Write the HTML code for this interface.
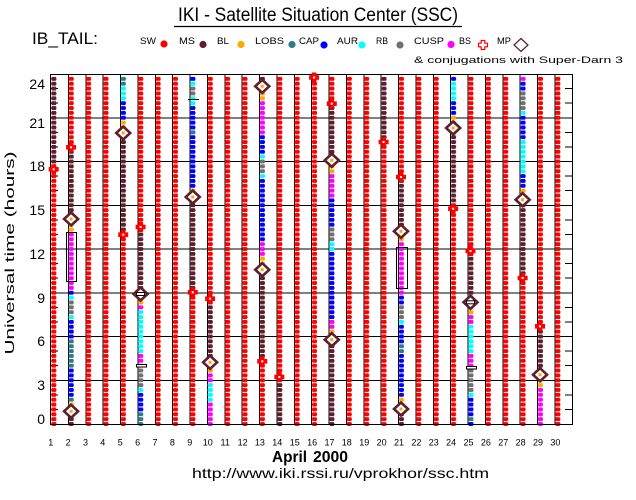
<!DOCTYPE html>
<html><head><meta charset="utf-8">
<style>
html,body{margin:0;padding:0;background:#fff;}
svg{display:block;}
text{font-family:"Liberation Sans",sans-serif;fill:#000;}
</style></head>
<body>
<svg width="636" height="500" viewBox="0 0 636 500" xmlns="http://www.w3.org/2000/svg" xmlns:xlink="http://www.w3.org/1999/xlink">
<defs>
<g id="dot"><rect x="0.2" y="0.28" width="5.2" height="0.44"/><rect x="0.7" y="0.1" width="4.2" height="0.8"/></g>
<pattern id="pR" patternUnits="userSpaceOnUse" x="51" y="0.5" width="17.3793" height="1"><use xlink:href="#dot" fill="#ff0000"/></pattern>
<pattern id="pM" patternUnits="userSpaceOnUse" x="51" y="0.5" width="17.3793" height="1"><use xlink:href="#dot" fill="#5e1e2e"/></pattern>
<pattern id="pO" patternUnits="userSpaceOnUse" x="51" y="0.5" width="17.3793" height="1"><use xlink:href="#dot" fill="#ffa800"/></pattern>
<pattern id="pT" patternUnits="userSpaceOnUse" x="51" y="0.5" width="17.3793" height="1"><use xlink:href="#dot" fill="#2f7a88"/></pattern>
<pattern id="pB" patternUnits="userSpaceOnUse" x="51" y="0.5" width="17.3793" height="1"><use xlink:href="#dot" fill="#0000ff"/></pattern>
<pattern id="pC" patternUnits="userSpaceOnUse" x="51" y="0.5" width="17.3793" height="1"><use xlink:href="#dot" fill="#00ffff"/></pattern>
<pattern id="pG" patternUnits="userSpaceOnUse" x="51" y="0.5" width="17.3793" height="1"><use xlink:href="#dot" fill="#707070"/></pattern>
<pattern id="pP" patternUnits="userSpaceOnUse" x="51" y="0.5" width="17.3793" height="1"><use xlink:href="#dot" fill="#ff00ff"/></pattern>
<path id="dm" d="M0,-6.5L7,0L0,6.5L-7,0Z"/>
<path id="cr" d="M-1.8,-4.5h3.6v2.7h2.7v3.6h-2.7v2.7h-3.6v-2.7h-2.7v-3.6h2.7z"/>
</defs>

<!-- Header -->
<text x="178" y="21" font-size="19" textLength="280" lengthAdjust="spacingAndGlyphs">IKI - Satellite Situation Center (SSC)</text>
<line x1="174" y1="26.5" x2="462" y2="26.5" stroke="#000" stroke-width="1.3"/>
<text x="32" y="44" font-size="16.5" textLength="66" lengthAdjust="spacingAndGlyphs">IB_TAIL:</text>

<!-- Legend -->
<g font-size="9.5">
<text x="140" y="44" textLength="16" lengthAdjust="spacingAndGlyphs">SW</text>
<circle cx="164" cy="44" r="3.6" fill="#ff0000"/>
<text x="179" y="44" textLength="16" lengthAdjust="spacingAndGlyphs">MS</text>
<circle cx="203" cy="44.5" r="3.6" fill="#5e1e2e"/>
<text x="217" y="44" textLength="12" lengthAdjust="spacingAndGlyphs">BL</text>
<circle cx="241" cy="44.5" r="3.6" fill="#ffa800"/>
<text x="255" y="44" textLength="29" lengthAdjust="spacingAndGlyphs">LOBS</text>
<circle cx="292" cy="44.5" r="3.6" fill="#2f7a88"/>
<text x="299" y="44" textLength="20" lengthAdjust="spacingAndGlyphs">CAP</text>
<circle cx="324" cy="45" r="3.6" fill="#0000ff"/>
<text x="337" y="44" textLength="21" lengthAdjust="spacingAndGlyphs">AUR</text>
<circle cx="362" cy="45" r="3.6" fill="#00ffff"/>
<text x="376" y="44" textLength="12" lengthAdjust="spacingAndGlyphs">RB</text>
<circle cx="400" cy="45" r="3.6" fill="#707070"/>
<text x="414" y="44" textLength="30" lengthAdjust="spacingAndGlyphs">CUSP</text>
<circle cx="451" cy="44.5" r="3.6" fill="#ff00ff"/>
<text x="459" y="44" textLength="12" lengthAdjust="spacingAndGlyphs">BS</text>
<use xlink:href="#cr" x="483" y="45" fill="none" stroke="#ff0000" stroke-width="1.2"/>
<text x="497" y="44" textLength="14" lengthAdjust="spacingAndGlyphs">MP</text>
<use xlink:href="#dm" x="521" y="45" fill="none" stroke="#5e1e2e" stroke-width="1.2"/>
<text x="414" y="63" textLength="209" lengthAdjust="spacingAndGlyphs">&amp; conjugations with Super-Darn 3</text>
</g>

<!-- Grid -->
<g stroke="#000" stroke-width="1" shape-rendering="crispEdges">
<line x1="50" y1="117.75" x2="572" y2="117.75"/>
<line x1="50" y1="161.5" x2="572" y2="161.5"/>
<line x1="50" y1="205.25" x2="572" y2="205.25"/>
<line x1="50" y1="249" x2="572" y2="249"/>
<line x1="50" y1="292.75" x2="572" y2="292.75"/>
<line x1="50" y1="336.5" x2="572" y2="336.5"/>
<line x1="50" y1="380.25" x2="572" y2="380.25"/>
<line x1="68.38" y1="74" x2="68.38" y2="424"/>
<line x1="85.76" y1="74" x2="85.76" y2="424"/>
<line x1="103.14" y1="74" x2="103.14" y2="424"/>
<line x1="120.52" y1="74" x2="120.52" y2="424"/>
<line x1="137.9" y1="74" x2="137.9" y2="424"/>
<line x1="155.28" y1="74" x2="155.28" y2="424"/>
<line x1="172.66" y1="74" x2="172.66" y2="424"/>
<line x1="190.03" y1="74" x2="190.03" y2="424"/>
<line x1="207.41" y1="74" x2="207.41" y2="424"/>
<line x1="224.79" y1="74" x2="224.79" y2="424"/>
<line x1="242.17" y1="74" x2="242.17" y2="424"/>
<line x1="259.55" y1="74" x2="259.55" y2="424"/>
<line x1="276.93" y1="74" x2="276.93" y2="424"/>
<line x1="294.31" y1="74" x2="294.31" y2="424"/>
<line x1="311.69" y1="74" x2="311.69" y2="424"/>
<line x1="329.07" y1="74" x2="329.07" y2="424"/>
<line x1="346.45" y1="74" x2="346.45" y2="424"/>
<line x1="363.83" y1="74" x2="363.83" y2="424"/>
<line x1="381.21" y1="74" x2="381.21" y2="424"/>
<line x1="398.59" y1="74" x2="398.59" y2="424"/>
<line x1="415.97" y1="74" x2="415.97" y2="424"/>
<line x1="433.34" y1="74" x2="433.34" y2="424"/>
<line x1="450.72" y1="74" x2="450.72" y2="424"/>
<line x1="468.1" y1="74" x2="468.1" y2="424"/>
<line x1="485.48" y1="74" x2="485.48" y2="424"/>
<line x1="502.86" y1="74" x2="502.86" y2="424"/>
<line x1="520.24" y1="74" x2="520.24" y2="424"/>
<line x1="537.62" y1="74" x2="537.62" y2="424"/>
<line x1="555" y1="74" x2="555" y2="424"/>
<path d="M50 409.42h8M50 394.83h8M50 365.67h8M50 351.08h8M50 321.92h8M50 307.33h8M50 278.17h8M50 263.58h8M50 234.42h8M50 219.83h8M50 190.67h8M50 176.08h8M50 146.92h8M50 132.33h8M50 103.17h8M50 88.58h8"/>
<path d="M565 409.42h7M565 394.83h7M565 365.67h7M565 351.08h7M565 321.92h7M565 307.33h7M565 278.17h7M565 263.58h7M565 234.42h7M565 219.83h7M565 190.67h7M565 176.08h7M565 146.92h7M565 132.33h7M565 103.17h7M565 88.58h7"/>
</g>

<!-- Dot columns -->
<g transform="translate(0,74) scale(1,4.86111)">
<rect x="50.7" y="0.5" width="6" height="18" fill="url(#pM)"/>
<rect x="50.7" y="18.5" width="6" height="54" fill="url(#pR)"/>
<rect x="68.08" y="0.5" width="6" height="14" fill="url(#pR)"/>
<rect x="68.08" y="14.5" width="6" height="15" fill="url(#pM)"/>
<rect x="68.08" y="29.5" width="6" height="3" fill="url(#pO)"/>
<rect x="68.08" y="32.5" width="6" height="12" fill="url(#pP)"/>
<rect x="68.08" y="44.5" width="6" height="1" fill="url(#pB)"/>
<rect x="68.08" y="45.5" width="6" height="1" fill="url(#pC)"/>
<rect x="68.08" y="46.5" width="6" height="3" fill="url(#pG)"/>
<rect x="68.08" y="49.5" width="6" height="1" fill="url(#pC)"/>
<rect x="68.08" y="50.5" width="6" height="4" fill="url(#pB)"/>
<rect x="68.08" y="54.5" width="6" height="6" fill="url(#pT)"/>
<rect x="68.08" y="60.5" width="6" height="6" fill="url(#pB)"/>
<rect x="68.08" y="66.5" width="6" height="1" fill="url(#pT)"/>
<rect x="68.08" y="67.5" width="6" height="2" fill="url(#pO)"/>
<rect x="68.08" y="69.5" width="6" height="3" fill="url(#pM)"/>
<rect x="85.46" y="0.5" width="6" height="72" fill="url(#pR)"/>
<rect x="102.84" y="0.5" width="6" height="72" fill="url(#pR)"/>
<rect x="120.22" y="0.5" width="6" height="2" fill="url(#pT)"/>
<rect x="120.22" y="2.5" width="6" height="3" fill="url(#pC)"/>
<rect x="120.22" y="5.5" width="6" height="4" fill="url(#pB)"/>
<rect x="120.22" y="9.5" width="6" height="3" fill="url(#pO)"/>
<rect x="120.22" y="12.5" width="6" height="20" fill="url(#pM)"/>
<rect x="120.22" y="32.5" width="6" height="40" fill="url(#pR)"/>
<rect x="137.6" y="0.5" width="6" height="31" fill="url(#pR)"/>
<rect x="137.6" y="31.5" width="6" height="14" fill="url(#pM)"/>
<rect x="137.6" y="45.5" width="6" height="2" fill="url(#pO)"/>
<rect x="137.6" y="47.5" width="6" height="1" fill="url(#pP)"/>
<rect x="137.6" y="48.5" width="6" height="9" fill="url(#pC)"/>
<rect x="137.6" y="57.5" width="6" height="2" fill="url(#pP)"/>
<rect x="137.6" y="59.5" width="6" height="5" fill="url(#pG)"/>
<rect x="137.6" y="64.5" width="6" height="1" fill="url(#pC)"/>
<rect x="137.6" y="65.5" width="6" height="4" fill="url(#pB)"/>
<rect x="137.6" y="69.5" width="6" height="3" fill="url(#pT)"/>
<rect x="154.98" y="0.5" width="6" height="72" fill="url(#pR)"/>
<rect x="172.36" y="0.5" width="6" height="72" fill="url(#pR)"/>
<rect x="189.73" y="0.5" width="6" height="1" fill="url(#pB)"/>
<rect x="189.73" y="1.5" width="6" height="1" fill="url(#pC)"/>
<rect x="189.73" y="2.5" width="6" height="2" fill="url(#pG)"/>
<rect x="189.73" y="4.5" width="6" height="2" fill="url(#pC)"/>
<rect x="189.73" y="6.5" width="6" height="5" fill="url(#pB)"/>
<rect x="189.73" y="11.5" width="6" height="1" fill="url(#pT)"/>
<rect x="189.73" y="12.5" width="6" height="11" fill="url(#pB)"/>
<rect x="189.73" y="23.5" width="6" height="3" fill="url(#pO)"/>
<rect x="189.73" y="26.5" width="6" height="18" fill="url(#pM)"/>
<rect x="189.73" y="44.5" width="6" height="28" fill="url(#pR)"/>
<rect x="207.11" y="0.5" width="6" height="46" fill="url(#pR)"/>
<rect x="207.11" y="46.5" width="6" height="12" fill="url(#pM)"/>
<rect x="207.11" y="58.5" width="6" height="3" fill="url(#pO)"/>
<rect x="207.11" y="61.5" width="6" height="2" fill="url(#pP)"/>
<rect x="207.11" y="63.5" width="6" height="4" fill="url(#pC)"/>
<rect x="207.11" y="67.5" width="6" height="5" fill="url(#pP)"/>
<rect x="224.49" y="0.5" width="6" height="72" fill="url(#pR)"/>
<rect x="241.87" y="0.5" width="6" height="72" fill="url(#pR)"/>
<rect x="259.25" y="0.5" width="6" height="2" fill="url(#pM)"/>
<rect x="259.25" y="2.5" width="6" height="3" fill="url(#pO)"/>
<rect x="259.25" y="5.5" width="6" height="7" fill="url(#pP)"/>
<rect x="259.25" y="12.5" width="6" height="4" fill="url(#pB)"/>
<rect x="259.25" y="16.5" width="6" height="1" fill="url(#pC)"/>
<rect x="259.25" y="17.5" width="6" height="3" fill="url(#pG)"/>
<rect x="259.25" y="20.5" width="6" height="1" fill="url(#pC)"/>
<rect x="259.25" y="21.5" width="6" height="13" fill="url(#pB)"/>
<rect x="259.25" y="34.5" width="6" height="3" fill="url(#pP)"/>
<rect x="259.25" y="37.5" width="6" height="3" fill="url(#pO)"/>
<rect x="259.25" y="40.5" width="6" height="18" fill="url(#pM)"/>
<rect x="259.25" y="58.5" width="6" height="14" fill="url(#pR)"/>
<rect x="276.63" y="0.5" width="6" height="62" fill="url(#pR)"/>
<rect x="276.63" y="62.5" width="6" height="10" fill="url(#pM)"/>
<rect x="294.01" y="0.5" width="6" height="72" fill="url(#pR)"/>
<rect x="311.39" y="0.5" width="6" height="72" fill="url(#pR)"/>
<rect x="328.77" y="0.5" width="6" height="6" fill="url(#pR)"/>
<rect x="328.77" y="6.5" width="6" height="11" fill="url(#pM)"/>
<rect x="328.77" y="17.5" width="6" height="3" fill="url(#pO)"/>
<rect x="328.77" y="20.5" width="6" height="5" fill="url(#pP)"/>
<rect x="328.77" y="25.5" width="6" height="6" fill="url(#pB)"/>
<rect x="328.77" y="31.5" width="6" height="3" fill="url(#pG)"/>
<rect x="328.77" y="34.5" width="6" height="2" fill="url(#pC)"/>
<rect x="328.77" y="36.5" width="6" height="14" fill="url(#pB)"/>
<rect x="328.77" y="50.5" width="6" height="2" fill="url(#pP)"/>
<rect x="328.77" y="52.5" width="6" height="3" fill="url(#pO)"/>
<rect x="328.77" y="55.5" width="6" height="17" fill="url(#pM)"/>
<rect x="346.15" y="0.5" width="6" height="72" fill="url(#pR)"/>
<rect x="363.53" y="0.5" width="6" height="72" fill="url(#pR)"/>
<rect x="380.91" y="0.5" width="6" height="13" fill="url(#pM)"/>
<rect x="380.91" y="13.5" width="6" height="59" fill="url(#pR)"/>
<rect x="398.29" y="0.5" width="6" height="21" fill="url(#pR)"/>
<rect x="398.29" y="21.5" width="6" height="10" fill="url(#pM)"/>
<rect x="398.29" y="31.5" width="6" height="3" fill="url(#pO)"/>
<rect x="398.29" y="34.5" width="6" height="11" fill="url(#pP)"/>
<rect x="398.29" y="45.5" width="6" height="2" fill="url(#pB)"/>
<rect x="398.29" y="47.5" width="6" height="3" fill="url(#pG)"/>
<rect x="398.29" y="50.5" width="6" height="1" fill="url(#pC)"/>
<rect x="398.29" y="51.5" width="6" height="4" fill="url(#pB)"/>
<rect x="398.29" y="55.5" width="6" height="2" fill="url(#pT)"/>
<rect x="398.29" y="57.5" width="6" height="9" fill="url(#pB)"/>
<rect x="398.29" y="66.5" width="6" height="3" fill="url(#pO)"/>
<rect x="398.29" y="69.5" width="6" height="3" fill="url(#pM)"/>
<rect x="415.67" y="0.5" width="6" height="72" fill="url(#pR)"/>
<rect x="433.04" y="0.5" width="6" height="72" fill="url(#pR)"/>
<rect x="450.42" y="0.5" width="6" height="1" fill="url(#pB)"/>
<rect x="450.42" y="1.5" width="6" height="4" fill="url(#pC)"/>
<rect x="450.42" y="5.5" width="6" height="3" fill="url(#pB)"/>
<rect x="450.42" y="8.5" width="6" height="3" fill="url(#pO)"/>
<rect x="450.42" y="11.5" width="6" height="16" fill="url(#pM)"/>
<rect x="450.42" y="27.5" width="6" height="45" fill="url(#pR)"/>
<rect x="467.8" y="0.5" width="6" height="36" fill="url(#pR)"/>
<rect x="467.8" y="36.5" width="6" height="10" fill="url(#pM)"/>
<rect x="467.8" y="46.5" width="6" height="3" fill="url(#pO)"/>
<rect x="467.8" y="49.5" width="6" height="2" fill="url(#pP)"/>
<rect x="467.8" y="51.5" width="6" height="6" fill="url(#pC)"/>
<rect x="467.8" y="57.5" width="6" height="3" fill="url(#pP)"/>
<rect x="467.8" y="60.5" width="6" height="5" fill="url(#pG)"/>
<rect x="467.8" y="65.5" width="6" height="1" fill="url(#pC)"/>
<rect x="467.8" y="66.5" width="6" height="4" fill="url(#pB)"/>
<rect x="467.8" y="70.5" width="6" height="1" fill="url(#pT)"/>
<rect x="467.8" y="71.5" width="6" height="1" fill="url(#pB)"/>
<rect x="485.18" y="0.5" width="6" height="72" fill="url(#pR)"/>
<rect x="502.56" y="0.5" width="6" height="72" fill="url(#pR)"/>
<rect x="519.94" y="0.5" width="6" height="1" fill="url(#pP)"/>
<rect x="519.94" y="1.5" width="6" height="2" fill="url(#pB)"/>
<rect x="519.94" y="3.5" width="6" height="4" fill="url(#pG)"/>
<rect x="519.94" y="7.5" width="6" height="1" fill="url(#pC)"/>
<rect x="519.94" y="8.5" width="6" height="5" fill="url(#pB)"/>
<rect x="519.94" y="13.5" width="6" height="7" fill="url(#pC)"/>
<rect x="519.94" y="20.5" width="6" height="3" fill="url(#pB)"/>
<rect x="519.94" y="23.5" width="6" height="3" fill="url(#pO)"/>
<rect x="519.94" y="26.5" width="6" height="15" fill="url(#pM)"/>
<rect x="519.94" y="41.5" width="6" height="31" fill="url(#pR)"/>
<rect x="537.32" y="0.5" width="6" height="52" fill="url(#pR)"/>
<rect x="537.32" y="52.5" width="6" height="9" fill="url(#pM)"/>
<rect x="537.32" y="61.5" width="6" height="3" fill="url(#pO)"/>
<rect x="537.32" y="64.5" width="6" height="8" fill="url(#pP)"/>
<rect x="554.7" y="0.5" width="6" height="72" fill="url(#pR)"/>
</g>

<!-- Frame -->
<rect x="50.5" y="74.5" width="522" height="350" fill="none" stroke="#000" stroke-width="1" shape-rendering="crispEdges"/>

<!-- Boxes & markers -->
<g fill="none" stroke="#000" stroke-width="1" shape-rendering="crispEdges">
<rect x="66.5" y="232.5" width="10" height="49"/>
<rect x="396.5" y="247.5" width="11" height="41"/>
<line x1="188" y1="99.5" x2="199" y2="99.5"/>
<rect x="136.5" y="364.5" width="10" height="2.5" fill="#fff"/>
<rect x="466.5" y="366.5" width="10" height="2.5" fill="#fff"/>
</g>

<!-- MP diamonds -->
<g fill="#fff" stroke="#5e1e2e" stroke-width="2.6">
<use xlink:href="#dm" x="71.08" y="219"/>
<use xlink:href="#dm" x="71.08" y="411.3"/>
<use xlink:href="#dm" x="123.22" y="133"/>
<use xlink:href="#dm" x="140.6" y="294"/>
<use xlink:href="#dm" x="192.73" y="197"/>
<use xlink:href="#dm" x="210.11" y="362.3"/>
<use xlink:href="#dm" x="262.25" y="86.3"/>
<use xlink:href="#dm" x="262.25" y="269.7"/>
<use xlink:href="#dm" x="331.77" y="160.3"/>
<use xlink:href="#dm" x="331.77" y="339.7"/>
<use xlink:href="#dm" x="400.99" y="231.3"/>
<use xlink:href="#dm" x="400.99" y="409"/>
<use xlink:href="#dm" x="453.12" y="128"/>
<use xlink:href="#dm" x="470.5" y="302.3"/>
<use xlink:href="#dm" x="522.64" y="199.7"/>
<use xlink:href="#dm" x="540.02" y="374.7"/>
</g>
<g fill="#ffa800">
<rect x="69.6" y="217.5" width="3" height="3"/>
<rect x="69.6" y="409.8" width="3" height="3"/>
<rect x="121.7" y="131.5" width="3" height="3"/>
<rect x="191.2" y="195.5" width="3" height="3"/>
<rect x="208.6" y="360.8" width="3" height="3"/>
<rect x="260.7" y="84.8" width="3" height="3"/>
<rect x="260.7" y="268.2" width="3" height="3"/>
<rect x="330.3" y="158.8" width="3" height="3"/>
<rect x="330.3" y="338.2" width="3" height="3"/>
<rect x="399.5" y="229.8" width="3" height="3"/>
<rect x="399.5" y="407.5" width="3" height="3"/>
<rect x="451.6" y="126.5" width="3" height="3"/>
<rect x="521.1" y="198.2" width="3" height="3"/>
<rect x="538.5" y="373.2" width="3" height="3"/>
</g>
<g fill="#fff" stroke="#000" stroke-width="1">
<rect x="136.6" y="292.5" width="8" height="3"/>
<rect x="466.5" y="300.8" width="8" height="3"/>
</g>

<!-- BS crosses -->
<g fill="#ff0000" stroke="#ff0000" stroke-width="1">
<use xlink:href="#cr" x="53.7" y="169.3"/>
<use xlink:href="#cr" x="71.08" y="147.3"/>
<use xlink:href="#cr" x="123.22" y="234.7"/>
<use xlink:href="#cr" x="140.6" y="227"/>
<use xlink:href="#cr" x="192.73" y="292.3"/>
<use xlink:href="#cr" x="210.11" y="298.7"/>
<use xlink:href="#cr" x="262.25" y="361.3"/>
<use xlink:href="#cr" x="279.33" y="377"/>
<use xlink:href="#cr" x="314.09" y="77.5"/>
<use xlink:href="#cr" x="331.77" y="103.7"/>
<use xlink:href="#cr" x="383.61" y="142"/>
<use xlink:href="#cr" x="400.99" y="177"/>
<use xlink:href="#cr" x="453.12" y="208.7"/>
<use xlink:href="#cr" x="470.5" y="251"/>
<use xlink:href="#cr" x="522.64" y="278"/>
<use xlink:href="#cr" x="540.02" y="326.3"/>
</g>
<g fill="#fff">
<rect x="52.7" y="168.3" width="2" height="2"/>
<rect x="70.08" y="146.3" width="2" height="2"/>
<rect x="122.22" y="233.7" width="2" height="2"/>
<rect x="139.6" y="226" width="2" height="2"/>
<rect x="191.73" y="291.3" width="2" height="2"/>
<rect x="209.11" y="297.7" width="2" height="2"/>
<rect x="261.25" y="360.3" width="2" height="2"/>
<rect x="278.33" y="376" width="2" height="2"/>
<rect x="313.09" y="76.5" width="2" height="2"/>
<rect x="330.77" y="102.7" width="2" height="2"/>
<rect x="382.61" y="141" width="2" height="2"/>
<rect x="399.99" y="176" width="2" height="2"/>
<rect x="452.12" y="207.7" width="2" height="2"/>
<rect x="469.5" y="250" width="2" height="2"/>
<rect x="521.64" y="277" width="2" height="2"/>
<rect x="539.02" y="325.3" width="2" height="2"/>
</g>

<!-- Y tick labels -->
<g font-size="14" text-anchor="end">
<text x="45" y="89">24</text>
<text x="45" y="128">21</text>
<text x="45" y="171">18</text>
<text x="45" y="215">15</text>
<text x="45" y="259">12</text>
<text x="45" y="303">9</text>
<text x="45" y="346">6</text>
<text x="45" y="390">3</text>
<text x="45" y="424">0</text>
</g>
<text transform="translate(14,253) rotate(-90)" font-size="13" text-anchor="middle" textLength="203" lengthAdjust="spacingAndGlyphs">Universal time (hours)</text>

<!-- X day labels -->
<g font-size="9" text-anchor="middle">
<text x="50.7" y="445.5">1</text>
<text x="68.1" y="445.5">2</text>
<text x="85.5" y="445.5">3</text>
<text x="102.8" y="445.5">4</text>
<text x="120.2" y="445.5">5</text>
<text x="137.6" y="445.5">6</text>
<text x="155" y="445.5">7</text>
<text x="172.4" y="445.5">8</text>
<text x="189.7" y="445.5">9</text>
<text x="207.8" y="445.5">10</text>
<text x="225.2" y="445.5">11</text>
<text x="242.6" y="445.5">12</text>
<text x="259.9" y="445.5">13</text>
<text x="277.3" y="445.5">14</text>
<text x="294.7" y="445.5">15</text>
<text x="312.1" y="445.5">16</text>
<text x="329.5" y="445.5">17</text>
<text x="346.8" y="445.5">18</text>
<text x="364.2" y="445.5">19</text>
<text x="381.6" y="445.5">20</text>
<text x="399" y="445.5">21</text>
<text x="416.4" y="445.5">22</text>
<text x="433.7" y="445.5">23</text>
<text x="451.1" y="445.5">24</text>
<text x="468.5" y="445.5">25</text>
<text x="485.9" y="445.5">26</text>
<text x="503.3" y="445.5">27</text>
<text x="520.6" y="445.5">28</text>
<text x="538" y="445.5">29</text>
<text x="555.4" y="445.5">30</text>
</g>

<text x="272" y="462" font-size="16" font-weight="bold" textLength="35" lengthAdjust="spacingAndGlyphs">April</text>
<text x="313" y="462" font-size="16" font-weight="bold" textLength="35" lengthAdjust="spacingAndGlyphs">2000</text>
<text x="192" y="478" font-size="14" textLength="297" lengthAdjust="spacingAndGlyphs">http://www.iki.rssi.ru/vprokhor/ssc.htm</text>
</svg>
</body></html>
